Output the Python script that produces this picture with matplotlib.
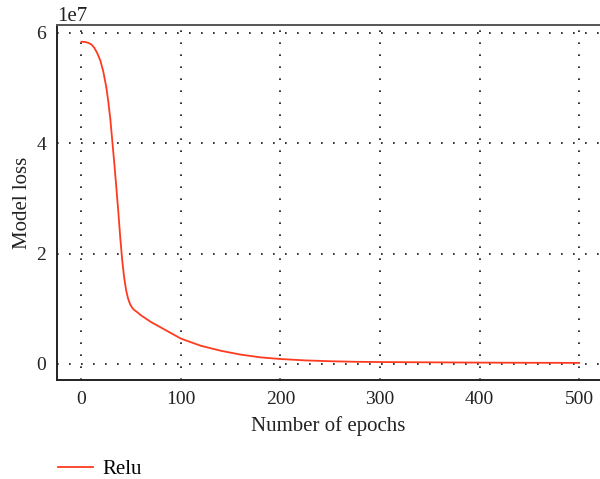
import matplotlib
matplotlib.use("Agg")
import matplotlib.pyplot as plt

epochs = [0, 4, 7, 10, 13, 16, 19, 22, 25, 27, 29, 31, 33, 35, 37, 39, 41, 43, 45,
          47, 49, 51, 53, 56, 60, 70, 80, 90, 100, 120, 140, 160, 180, 200, 225,
          250, 275, 300, 350, 400, 450, 500]
loss_e7 = [5.84, 5.835, 5.82, 5.79, 5.73, 5.63, 5.50, 5.30, 5.02, 4.76, 4.45, 4.05,
           3.65, 3.22, 2.78, 2.30, 1.88, 1.56, 1.33, 1.18, 1.08, 1.02, 0.98, 0.94,
           0.88, 0.76, 0.66, 0.56, 0.46, 0.33, 0.24, 0.17, 0.12, 0.09, 0.065, 0.05,
           0.04, 0.035, 0.03, 0.025, 0.022, 0.02]
loss = [v * 1e7 for v in loss_e7]
series_name = "Relu"
xticks = [0, 100, 200, 300, 400, 500]
yticks = [0, 2e7, 4e7, 6e7]

plt.rcParams['font.family'] = ['Liberation Serif', 'DejaVu Serif']
plt.rcParams['font.size'] = 14

fig = plt.figure(figsize=(6.0, 4.79), dpi=100)
ax = fig.add_axes([0.095, 0.2067, 0.905, 0.7413])

line, = ax.plot(epochs, loss, color='#ff3b1f', lw=1.3, label=series_name)

ax.set_xlim(-24.5, 521)
ax.set_ylim(-0.29e7, 6.145e7)
ax.set_xticks(xticks)
ax.set_yticks(yticks)
ax.tick_params(length=0, pad=8, labelsize=14, colors='#222222')
ax.grid(True, color='#111111', linestyle=(0, (1.0, 6.2)), lw=1.2)
for s in ['left', 'bottom', 'top']:
    ax.spines[s].set_color('#222222')
    ax.spines[s].set_linewidth(1.4)
ax.spines['top'].set_color('#555555')
ax.spines['right'].set_visible(False)

ax.set_xlabel('Number of epochs', fontsize=15, color='#222222', labelpad=6)
ax.set_ylabel('Model loss', fontsize=15, color='#222222', labelpad=3)
ax.yaxis.get_offset_text().set_fontsize(15)

fig.legend(handles=[line], loc='center left', bbox_to_anchor=(0.065, 0.02),
           frameon=False, fontsize=15, handlelength=1.7, handletextpad=0.45)

fig.savefig('out.png', dpi=100)
